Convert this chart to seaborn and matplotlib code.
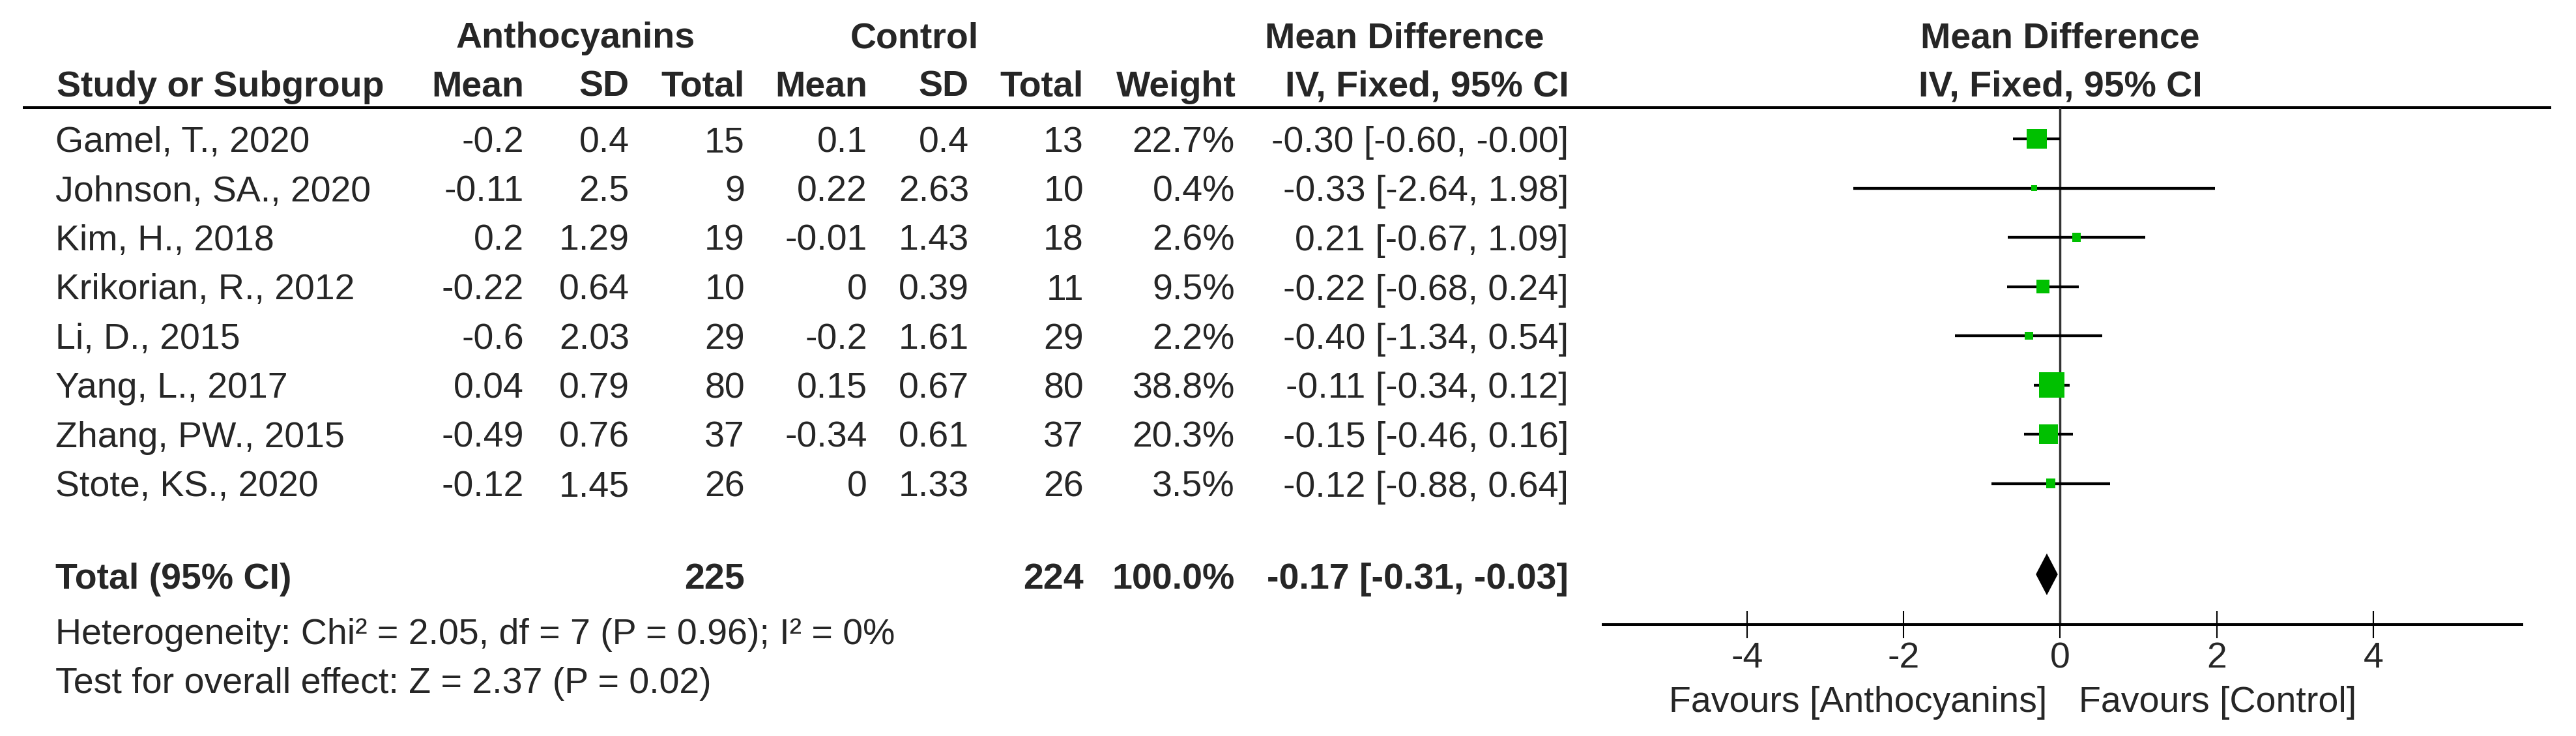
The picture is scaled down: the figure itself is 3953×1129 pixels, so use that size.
import matplotlib
matplotlib.use("Agg")
import matplotlib.pyplot as plt
import seaborn as sns

# Study data
studies = ["Gamel, T., 2020", "Johnson, SA., 2020", "Kim, H., 2018", "Krikorian, R., 2012",
           "Li, D., 2015", "Yang, L., 2017", "Zhang, PW., 2015", "Stote, KS., 2020"]
ant_mean = [-0.2, -0.11, 0.2, -0.22, -0.6, 0.04, -0.49, -0.12]
ant_sd = [0.4, 2.5, 1.29, 0.64, 2.03, 0.79, 0.76, 1.45]
ant_n = [15, 9, 19, 10, 29, 80, 37, 26]
ctl_mean = [0.1, 0.22, -0.01, 0, -0.2, 0.15, -0.34, 0]
ctl_sd = [0.4, 2.63, 1.43, 0.39, 1.61, 0.67, 0.61, 1.33]
ctl_n = [13, 10, 18, 11, 29, 80, 37, 26]
weight = [22.7, 0.4, 2.6, 9.5, 2.2, 38.8, 20.3, 3.5]
md = [-0.30, -0.33, 0.21, -0.22, -0.40, -0.11, -0.15, -0.12]
ci_lo = [-0.60, -2.64, -0.67, -0.68, -1.34, -0.34, -0.46, -0.88]
ci_hi = [-0.00, 1.98, 1.09, 0.24, 0.54, 0.12, 0.16, 0.64]

# Pooled result
total_ant_n = 225
total_ctl_n = 224
total_weight = 100.0
total_md = -0.17
total_lo = -0.31
total_hi = -0.03

heterogeneity = "Heterogeneity: Chi\u00b2 = 2.05, df = 7 (P = 0.96); I\u00b2 = 0%"
overall = "Test for overall effect: Z = 2.37 (P = 0.02)"
xticks = [-4, -2, 0, 2, 4]
favours_left = "Favours [Anthocyanins]"
favours_right = "Favours [Control]"

sns.set_theme(style="white")
plt.rcParams['font.family'] = ['Liberation Sans', 'DejaVu Sans']
plt.rcParams['axes.unicode_minus'] = False
FS = 40

W, H = 3953, 1129
ROW0, STEP = 213, 75.5


def py(px):
    # pixel row position -> row units
    return (px - ROW0) / STEP


fig = plt.figure(figsize=(W / 100, H / 100), dpi=100)
ax = fig.add_axes([0, 0, 1, 1])
ax.set_xlim(0, W)
ax.set_ylim(py(H), py(0))
ax.axis('off')

fx = fig.add_axes([2460 / W, 0, 1410 / W, 1], sharey=ax)
fx.set_facecolor('none')
fx.set_xlim(-5.84, 5.90)
fx.set_ylim(py(H), py(0))

rows = list(range(len(studies)))
base = 20 / STEP  # baseline offset below row centre

# column headers
ax.text(883, py(73), "Anthocyanins", ha='center', va='baseline', fontsize=FS, fontweight='bold')
ax.text(1403, py(73), "Control", ha='center', va='baseline', fontsize=FS, fontweight='bold')
ax.text(2155, py(73), "Mean Difference", ha='center', va='baseline', fontsize=FS, fontweight='bold')
hdr = [(87, "Study or Subgroup", 'left'), (804, "Mean", 'right'), (966, "SD", 'right'),
       (1143, "Total", 'right'), (1331, "Mean", 'right'), (1487, "SD", 'right'),
       (1663, "Total", 'right'), (1897, "Weight", 'right'), (2408, "IV, Fixed, 95% CI", 'right')]
for x, t, ha in hdr:
    ax.text(x, py(148), t, ha=ha, va='baseline', fontsize=FS, fontweight='bold')
fx.text(0, py(73), "Mean Difference", ha='center', va='baseline', fontsize=FS, fontweight='bold')
fx.text(0, py(148), "IV, Fixed, 95% CI", ha='center', va='baseline', fontsize=FS, fontweight='bold')

ax.hlines(py(165), 35, 3915, color='black', lw=2.9)

# study rows
for i in rows:
    y = i + base
    ax.text(85, y, studies[i], ha='left', va='baseline', fontsize=FS)
    ax.text(804, y, f"{ant_mean[i]:g}", ha='right', va='baseline', fontsize=FS)
    ax.text(966, y, f"{ant_sd[i]:g}", ha='right', va='baseline', fontsize=FS)
    ax.text(1143, y, f"{ant_n[i]}", ha='right', va='baseline', fontsize=FS)
    ax.text(1331, y, f"{ctl_mean[i]:g}", ha='right', va='baseline', fontsize=FS)
    ax.text(1487, y, f"{ctl_sd[i]:g}", ha='right', va='baseline', fontsize=FS)
    ax.text(1663, y, f"{ctl_n[i]}", ha='right', va='baseline', fontsize=FS)
    ax.text(1895, y, f"{weight[i]:.1f}%", ha='right', va='baseline', fontsize=FS)
    ax.text(2407, y, f"{md[i]:.2f} [{ci_lo[i]:.2f}, {ci_hi[i]:.2f}]", ha='right', va='baseline', fontsize=FS)

# total row
yt = py(903)
ax.text(85, yt, "Total (95% CI)", ha='left', va='baseline', fontsize=FS, fontweight='bold')
ax.text(1143, yt, f"{total_ant_n}", ha='right', va='baseline', fontsize=FS, fontweight='bold')
ax.text(1663, yt, f"{total_ctl_n}", ha='right', va='baseline', fontsize=FS, fontweight='bold')
ax.text(1895, yt, f"{total_weight:.1f}%", ha='right', va='baseline', fontsize=FS, fontweight='bold')
ax.text(2407, yt, f"{total_md:.2f} [{total_lo:.2f}, {total_hi:.2f}]", ha='right', va='baseline',
        fontsize=FS, fontweight='bold')
ax.text(85, py(988), heterogeneity, ha='left', va='baseline', fontsize=FS)
ax.text(85, py(1063), overall, ha='left', va='baseline', fontsize=FS)

# forest plot
fx.vlines(0, py(165), py(958), color='#333333', lw=2.5, zorder=1)
fx.hlines(rows, ci_lo, ci_hi, color='black', lw=3.1, zorder=2)
sns.scatterplot(x=md, y=rows, size=weight, sizes=(45, 800), marker='s', color='#00C000',
                linewidth=0, legend=False, ax=fx, zorder=3)

yd = py(881)
hh = 32 / STEP
fx.fill([total_lo, total_md, total_hi, total_md], [yd, yd - hh, yd, yd + hh],
        color='black', lw=0, zorder=3)

for s in ['left', 'right', 'top']:
    fx.spines[s].set_visible(False)
fx.spines['bottom'].set_position(('data', py(958)))
fx.spines['bottom'].set_linewidth(2.9)
fx.spines['bottom'].set_color('black')
fx.set_xticks(xticks)
fx.set_xticklabels([str(t) for t in xticks])
fx.tick_params(axis='x', direction='inout', length=30, width=1.5, color='black',
               labelsize=FS, pad=4, bottom=True)
fx.tick_params(axis='y', left=False, labelleft=False)
fx.set_xlabel('')
fx.set_ylabel('')
fx.grid(False)

fx.text(-0.17, py(1092), favours_left, ha='right', va='baseline', fontsize=FS)
fx.text(0.24, py(1092), favours_right, ha='left', va='baseline', fontsize=FS)

fig.savefig('out.png', dpi=100)
